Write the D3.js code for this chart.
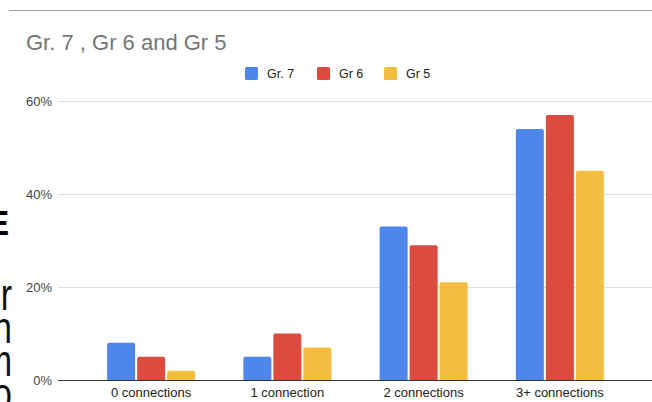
<!doctype html>
<html lang="en">
<head>
  <meta charset="utf-8">
  <script src="https://d3js.org/d3.v7.min.js"></script>
  <style>
    body { margin: 0; background: #fff; }
    svg { display: block; font-family: Arial, "Liberation Sans", sans-serif; }
  </style>
</head>
<body>
  <script>
    // chart data
    var categories = ["0 connections", "1 connection", "2 connections", "3+ connections"];
    var seriesNames = ["Gr. 7", "Gr 6", "Gr 5"];
    var gr7 = [8, 5, 33, 54];
    var gr6 = [5, 10, 29, 57];
    var gr5 = [2, 7, 21, 45];
    var yTicks = [0, 20, 40, 60];
    var colors = ["#4f86ec", "#db4c3f", "#f2be42"];

    var width = 652,
        height = 402;

    var svg = d3.select("body").append("svg")
        .attr("width", width)
        .attr("height", height);

    // thin rule across the top of the screenshot
    svg.append("line")
        .attr("x1", 9).attr("x2", width)
        .attr("y1", 10.5).attr("y2", 10.5)
        .style("stroke", "#9e9e9e")
        .style("stroke-width", 1.2);

    // bits of page text cut off at the left edge
    svg.append("text")
        .attr("transform", "translate(9,235) scale(1,1.1)")
        .attr("text-anchor", "end")
        .style("font-size", "32px").style("font-weight", "bold")
        .style("fill", "#000").text("E");
    var leftBits = [["r", 310], ["n", 343], ["m", 376], ["o", 409]];
    leftBits.forEach(function(b) {
      svg.append("text")
          .attr("transform", "translate(12," + b[1] + ") scale(1,1.3)")
          .attr("text-anchor", "end")
          .style("font-size", "34px")
          .style("fill", "#111").text(b[0]);
    });

    // title
    svg.append("text")
        .attr("x", 26).attr("y", 50)
        .style("font-size", "22px")
        .style("fill", "#757575")
        .text("Gr. 7 , Gr 6 and Gr 5");

    // legend
    var legendX = [245, 317, 384];
    seriesNames.forEach(function(name, i) {
      svg.append("rect")
          .attr("x", legendX[i]).attr("y", 67)
          .attr("width", 13).attr("height", 13)
          .attr("rx", 1.5)
          .style("fill", colors[i]);
      svg.append("text")
          .attr("x", legendX[i] + 22).attr("y", 78)
          .style("font-size", "12.5px")
          .style("fill", "#222")
          .text(name);
    });

    // scales
    var y = d3.scaleLinear().domain([0, 60]).range([380, 101]);
    var x0 = d3.scaleBand().domain(categories).range([83, 628]);
    var bw = x0.bandwidth();
    var x1 = d3.scaleBand().domain(seriesNames)
        .range([(bw - 88) / 2, (bw + 88) / 2])
        .paddingInner(0.0667);

    // gridlines
    svg.selectAll(".grid")
        .data(yTicks.filter(function(t) { return t > 0; }))
      .enter().append("line")
        .attr("class", "grid")
        .attr("x1", 58).attr("x2", width)
        .attr("y1", function(d) { return Math.round(y(d)) + 0.5; })
        .attr("y2", function(d) { return Math.round(y(d)) + 0.5; })
        .style("stroke", "#dcdcdc")
        .style("stroke-width", 1);

    // y tick labels
    svg.selectAll(".ylab")
        .data(yTicks)
      .enter().append("text")
        .attr("class", "ylab")
        .attr("x", 52)
        .attr("y", function(d) { return y(d) + 4.5; })
        .attr("text-anchor", "end")
        .style("font-size", "13px")
        .style("fill", "#444")
        .text(function(d) { return d + "%"; });

    // bars
    var rows = categories.map(function(c, i) {
      return { cat: c, vals: [gr7[i], gr6[i], gr5[i]] };
    });
    var groups = svg.selectAll(".grp")
        .data(rows)
      .enter().append("g")
        .attr("class", "grp")
        .attr("transform", function(d) { return "translate(" + x0(d.cat) + ",0)"; });

    groups.selectAll("path")
        .data(function(d) {
          return d.vals.map(function(v, i) { return { name: seriesNames[i], v: v, i: i }; });
        })
      .enter().append("path")
        .attr("d", function(d) {
          var bx = x1(d.name), w = x1.bandwidth(), top = y(d.v), r = 2;
          return "M" + bx + ",380V" + (top + r) +
                 "Q" + bx + "," + top + " " + (bx + r) + "," + top +
                 "H" + (bx + w - r) +
                 "Q" + (bx + w) + "," + top + " " + (bx + w) + "," + (top + r) +
                 "V380Z";
        })
        .style("fill", function(d) { return colors[d.i]; });

    // baseline
    svg.append("line")
        .attr("x1", 58).attr("x2", width)
        .attr("y1", 380.5).attr("y2", 380.5)
        .style("stroke", "#333")
        .style("stroke-width", 1);

    // x labels
    svg.selectAll(".xlab")
        .data(categories)
      .enter().append("text")
        .attr("class", "xlab")
        .attr("x", function(d) { return x0(d) + bw / 2; })
        .attr("y", 397)
        .attr("text-anchor", "middle")
        .style("font-size", "13px")
        .style("fill", "#222")
        .text(function(d) { return d; });
  </script>
</body>
</html>
